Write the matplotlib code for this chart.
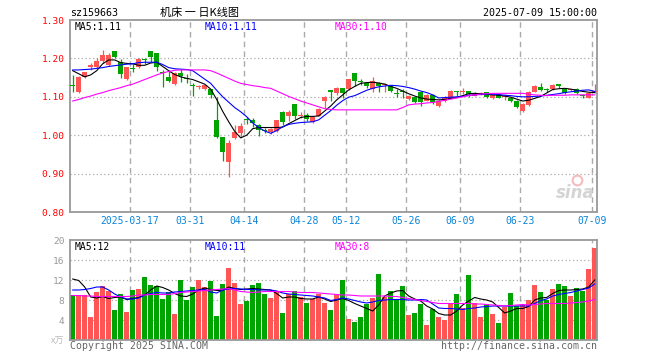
import matplotlib.pyplot as plt
import numpy as np

# daily candles, 2025-03-03 .. 2025-07-09 (88 trading days)
opens = [1.130, 1.112, 1.152, 1.177, 1.178, 1.193, 1.183, 1.219, 1.191, 1.146,
         1.175, 1.178, 1.198, 1.219, 1.213, 1.165, 1.152, 1.133, 1.161, 1.150,
         1.129, 1.125, 1.120, 1.120, 1.040, 0.995, 0.931, 0.992, 1.007, 1.041,
         1.040, 1.027, 1.013, 1.009, 1.011, 1.061, 1.050, 1.081, 1.049, 1.053,
         1.035, 1.051, 1.090, 1.118, 1.109, 1.122, 1.120, 1.161, 1.140, 1.137,
         1.120, 1.135, 1.130, 1.128, 1.110, 1.114, 1.093, 1.100, 1.113, 1.090,
         1.104, 1.076, 1.090, 1.094, 1.113, 1.112, 1.115, 1.103, 1.108, 1.112,
         1.097, 1.105, 1.099, 1.096, 1.090, 1.063, 1.079, 1.113, 1.125, 1.119,
         1.120, 1.133, 1.120, 1.117, 1.120, 1.103, 1.098, 1.112]
highs = [1.157, 1.153, 1.165, 1.188, 1.200, 1.222, 1.213, 1.219, 1.198, 1.177,
         1.185, 1.200, 1.202, 1.219, 1.213, 1.170, 1.167, 1.165, 1.172, 1.159,
         1.135, 1.130, 1.131, 1.120, 1.100, 0.995, 0.987, 1.027, 1.033, 1.047,
         1.044, 1.028, 1.018, 1.018, 1.040, 1.063, 1.066, 1.081, 1.061, 1.058,
         1.050, 1.070, 1.102, 1.118, 1.126, 1.122, 1.146, 1.161, 1.146, 1.139,
         1.151, 1.139, 1.135, 1.130, 1.120, 1.120, 1.104, 1.100, 1.113, 1.107,
         1.106, 1.091, 1.101, 1.117, 1.114, 1.122, 1.116, 1.113, 1.113, 1.113,
         1.106, 1.107, 1.108, 1.098, 1.091, 1.083, 1.114, 1.131, 1.137, 1.122,
         1.133, 1.134, 1.121, 1.121, 1.122, 1.108, 1.112, 1.133]
lows = [1.113, 1.109, 1.148, 1.171, 1.175, 1.188, 1.179, 1.200, 1.148, 1.145,
        1.165, 1.176, 1.185, 1.191, 1.167, 1.125, 1.138, 1.130, 1.139, 1.137,
        1.103, 1.120, 1.118, 1.097, 0.993, 0.933, 0.890, 0.989, 0.996, 1.029,
        1.021, 0.999, 1.006, 1.003, 1.009, 1.027, 1.038, 1.041, 1.044, 1.038,
        1.033, 1.050, 1.072, 1.090, 1.105, 1.098, 1.118, 1.128, 1.131, 1.122,
        1.113, 1.113, 1.113, 1.112, 1.100, 1.096, 1.091, 1.084, 1.076, 1.089,
        1.080, 1.074, 1.086, 1.093, 1.102, 1.108, 1.100, 1.101, 1.104, 1.098,
        1.095, 1.096, 1.092, 1.087, 1.072, 1.061, 1.077, 1.112, 1.114, 1.112,
        1.119, 1.122, 1.108, 1.114, 1.107, 1.097, 1.096, 1.109]
closes = [1.128, 1.152, 1.164, 1.184, 1.194, 1.209, 1.209, 1.204, 1.159, 1.177,
          1.173, 1.198, 1.196, 1.204, 1.177, 1.162, 1.142, 1.163, 1.155, 1.147,
          1.127, 1.126, 1.131, 1.105, 0.995, 0.955, 0.979, 1.009, 1.024, 1.039,
          1.033, 1.014, 1.011, 1.016, 1.040, 1.035, 1.061, 1.051, 1.051, 1.041,
          1.048, 1.068, 1.100, 1.112, 1.122, 1.111, 1.146, 1.141, 1.138, 1.127,
          1.140, 1.127, 1.131, 1.116, 1.108, 1.112, 1.102, 1.087, 1.087, 1.105,
          1.087, 1.089, 1.098, 1.115, 1.112, 1.114, 1.106, 1.111, 1.110, 1.099,
          1.105, 1.098, 1.101, 1.089, 1.074, 1.081, 1.113, 1.128, 1.118, 1.117,
          1.131, 1.128, 1.111, 1.118, 1.109, 1.102, 1.111, 1.113]

ma5 = [1.168, 1.160, 1.152, 1.157, 1.168, 1.186, 1.196, 1.196, 1.189, 1.187,
       1.186, 1.182, 1.182, 1.188, 1.190, 1.179, 1.168, 1.158, 1.152, 1.148,
       1.145, 1.139, 1.133, 1.120, 1.093, 1.062, 1.035, 1.010, 0.993, 1.000,
       1.017, 1.020, 1.020, 1.020, 1.020, 1.021, 1.030, 1.038, 1.046, 1.049,
       1.049, 1.050, 1.063, 1.076, 1.092, 1.105, 1.118, 1.127, 1.135, 1.137,
       1.138, 1.136, 1.133, 1.127, 1.122, 1.115, 1.108, 1.102, 1.097, 1.094,
       1.093, 1.092, 1.093, 1.096, 1.098, 1.103, 1.108, 1.109, 1.108, 1.106,
       1.105, 1.104, 1.102, 1.099, 1.094, 1.089, 1.091, 1.096, 1.101, 1.110,
       1.119, 1.121, 1.122, 1.120, 1.117, 1.114, 1.112, 1.111]
ma10 = [1.170, 1.170, 1.171, 1.172, 1.174, 1.176, 1.179, 1.181, 1.183, 1.185,
        1.186, 1.189, 1.190, 1.190, 1.190, 1.184, 1.176, 1.173, 1.172, 1.171,
        1.168, 1.157, 1.146, 1.135, 1.117, 1.100, 1.086, 1.072, 1.061, 1.048,
        1.032, 1.020, 1.011, 1.005, 1.012, 1.022, 1.028, 1.031, 1.033, 1.034,
        1.035, 1.040, 1.052, 1.064, 1.078, 1.090, 1.099, 1.103, 1.110, 1.117,
        1.122, 1.126, 1.128, 1.130, 1.129, 1.127, 1.124, 1.120, 1.115, 1.111,
        1.105, 1.097, 1.098, 1.099, 1.100, 1.101, 1.104, 1.105, 1.106, 1.107,
        1.107, 1.106, 1.104, 1.103, 1.101, 1.100, 1.100, 1.101, 1.102, 1.104,
        1.106, 1.108, 1.111, 1.113, 1.115, 1.117, 1.118, 1.114]
ma30 = [1.089, 1.093, 1.098, 1.102, 1.107, 1.111, 1.116, 1.120, 1.124, 1.129,
        1.133, 1.139, 1.145, 1.151, 1.157, 1.162, 1.166, 1.169, 1.170, 1.170,
        1.170, 1.170, 1.170, 1.168, 1.162, 1.155, 1.148, 1.141, 1.135, 1.132,
        1.129, 1.127, 1.124, 1.122, 1.115, 1.108, 1.101, 1.095, 1.089, 1.084,
        1.079, 1.074, 1.069, 1.067, 1.066, 1.066, 1.066, 1.066, 1.066, 1.066,
        1.066, 1.066, 1.066, 1.066, 1.066, 1.072, 1.079, 1.081, 1.082, 1.084,
        1.085, 1.088, 1.091, 1.094, 1.097, 1.100, 1.103, 1.105, 1.107, 1.108,
        1.109, 1.109, 1.109, 1.109, 1.109, 1.109, 1.107, 1.105, 1.104, 1.103,
        1.104, 1.104, 1.104, 1.105, 1.105, 1.105, 1.105, 1.105]

# volume in 万
volume = [9.0, 9.0, 9.0, 4.7, 9.7, 10.8, 9.9, 6.0, 9.2, 5.7,
          10.0, 10.2, 12.6, 11.0, 10.8, 8.2, 9.6, 5.2, 12.0, 8.0,
          10.6, 12.0, 10.6, 11.8, 4.8, 11.2, 14.4, 11.4, 7.2, 7.9,
          11.0, 11.4, 9.3, 8.4, 9.8, 5.4, 9.2, 9.8, 8.6, 7.4,
          8.2, 9.2, 7.4, 6.0, 9.0, 12.0, 4.2, 3.6, 4.6, 7.3,
          8.4, 13.2, 8.6, 9.8, 8.0, 10.8, 5.0, 5.4, 7.2, 3.0,
          6.2, 4.6, 4.0, 7.4, 9.2, 6.4, 13.0, 7.4, 4.6, 7.2,
          5.2, 3.4, 6.6, 9.4, 6.8, 7.0, 8.0, 11.0, 9.6, 8.0,
          10.2, 11.2, 10.8, 8.8, 10.4, 9.8, 14.2, 18.4]
vol_ma5 = [12.2, 11.9, 10.6, 8.6, 8.4, 8.7, 8.3, 8.5, 8.6, 8.1,
           8.3, 8.5, 9.0, 10.0, 10.8, 10.5, 10.0, 9.3, 8.8, 8.7,
           9.2, 10.0, 10.4, 10.1, 9.9, 9.9, 10.6, 10.3, 10.1, 10.2,
           10.3, 10.2, 10.1, 10.0, 9.3, 8.4, 8.6, 8.6, 8.3, 8.2,
           8.2, 8.6, 8.2, 7.7, 8.0, 8.3, 7.9, 7.3, 6.8, 6.3,
           5.8, 7.0, 8.8, 9.4, 9.8, 9.9, 8.8, 8.2, 7.8, 6.8,
           6.2, 5.3, 5.0, 5.0, 5.8, 7.0, 7.8, 8.5, 8.2, 8.0,
           7.6, 6.5, 5.4, 5.8, 6.3, 6.3, 6.7, 8.0, 8.4, 8.5,
           9.3, 9.9, 10.0, 10.0, 10.1, 10.2, 10.6, 12.0]
vol_ma10 = [10.0, 10.0, 10.1, 10.3, 10.6, 10.6, 10.0, 9.2, 8.6, 8.2,
            8.2, 8.4, 9.0, 9.3, 9.5, 9.4, 9.4, 9.6, 9.7, 9.8,
            9.9, 10.0, 10.1, 9.6, 9.4, 10.0, 10.2, 10.3, 10.2, 10.1,
            10.1, 10.0, 10.0, 10.0, 9.8, 9.4, 9.2, 9.1, 9.0, 8.9,
            8.8, 8.6, 8.4, 7.9, 8.1, 8.4, 8.2, 7.9, 7.6, 7.4,
            7.6, 7.9, 8.0, 8.1, 8.1, 8.1, 8.0, 8.0, 8.1, 8.0,
            7.2, 6.4, 6.3, 6.3, 6.2, 6.1, 6.3, 6.4, 6.6, 6.7,
            6.8, 6.8, 6.8, 6.8, 6.8, 6.8, 6.8, 7.3, 7.9, 8.2,
            8.8, 9.1, 9.3, 9.5, 9.8, 10.1, 10.4, 11.2]
vol_ma30 = [8.9, 8.9, 8.8, 8.8, 8.7, 8.7, 8.7, 8.7, 8.7, 8.7,
            8.8, 9.0, 9.0, 9.1, 9.1, 9.1, 9.1, 9.3, 9.5, 9.6,
            9.7, 9.8, 9.9, 10.0, 10.1, 10.2, 10.3, 10.0, 9.7, 9.6,
            9.5, 9.6, 9.7, 9.7, 9.7, 9.7, 9.7, 9.6, 9.5, 9.5,
            9.5, 9.4, 9.3, 9.2, 9.1, 9.0, 9.0, 8.9, 8.8, 8.8,
            8.8, 8.8, 8.8, 8.7, 8.7, 8.5, 8.3, 8.1, 7.9, 7.7,
            7.5, 7.3, 7.3, 7.3, 7.3, 7.3, 7.3, 7.2, 7.2, 7.1,
            7.0, 6.9, 6.8, 6.9, 7.0, 7.1, 7.0, 7.1, 7.2, 7.3,
            7.3, 7.3, 7.3, 7.4, 7.5, 7.6, 7.8, 8.1]

tick_idx = [10, 20, 29, 39, 46, 56, 65, 75, 87]
tick_labels = ["2025-03-17", "03-31", "04-14", "04-28", "05-12",
               "05-26", "06-09", "06-23", "07-09"]
price_ticks = [0.80, 0.90, 1.00, 1.10, 1.20, 1.30]
vol_ticks = [4, 8, 12, 16, 20]

RED = "#ff5555"
GREEN = "#00a400"
GRID = "#aaaaaa"
MONO = "DejaVu Sans Mono"
W, H = 660, 360


def px(x, y):
    return x / W, 1 - y / H


fig = plt.figure(figsize=(6.6, 3.6), dpi=100)
ax = fig.add_axes([70 / W, 1 - 212 / H, 527 / W, 192 / H])
axv = fig.add_axes([70 / W, 20 / H, 527 / W, 100 / H])

n = len(closes)
x = np.arange(n)
xc = x + 0.45
o = np.array(opens)
c = np.array(closes)
colors = [RED if c[i] >= o[i] else GREEN for i in range(n)]

for a in (ax, axv):
    a.set_xlim(0, 527 / 6)
    for i in tick_idx:
        a.axvline(i, color=GRID, lw=1, ls=(0, (4, 3)), zorder=0)
    for s in a.spines.values():
        s.set_color("#999999")
        s.set_linewidth(1.3)
    a.set_xticks([])
    a.tick_params(axis="y", length=0, pad=4)

# price panel
ax.set_ylim(0.80, 1.30)
for p in price_ticks[1:-1]:
    ax.axhline(p, color=GRID, lw=0.9, ls=(0, (1, 2)), zorder=0)
ax.vlines(xc, lows, highs, colors=colors, lw=0.9, zorder=2)
body = np.maximum(np.abs(c - o), 0.003)
ax.bar(xc, body, bottom=np.minimum(o, c), width=0.8, color=colors, zorder=3)
ax.plot(xc, ma5, color="black", lw=0.8, zorder=4)
ax.plot(xc, ma10, color="#0000ff", lw=0.8, zorder=4)
ax.plot(xc, ma30, color="#ff00ff", lw=0.8, zorder=4)
ax.set_yticks(price_ticks)
ax.set_yticklabels([f"{p:.2f}" for p in price_ticks], family=MONO,
                   fontsize=6.8, color="red")

for i, lab in zip(tick_idx, tick_labels):
    ax.text(i, -0.045, lab, transform=ax.get_xaxis_transform(), ha="center",
            va="center", family=MONO, fontsize=7, color="#0a84d8")

ax.text(5 / 527, 1 - 6.5 / 192, "MA5:1.11", transform=ax.transAxes,
        family=MONO, fontsize=7, va="center", color="black")
ax.text(135 / 527, 1 - 6.5 / 192, "MA10:1.11", transform=ax.transAxes,
        family=MONO, fontsize=7, va="center", color="#0000ff")
ax.text(265 / 527, 1 - 6.5 / 192, "MA30:1.10", transform=ax.transAxes,
        family=MONO, fontsize=7, va="center", color="#ff00ff")

# sina watermark
ax.text(0.995, 0.05, "sina", transform=ax.transAxes, ha="right", va="bottom",
        fontsize=12, style="italic", weight="bold", color="#d4d4d4", zorder=1)
ax.plot([0.962], [0.165], marker="o", ms=7, mfc="none", mec="#f4bcbc", mew=1.5,
        transform=ax.transAxes, zorder=1)

# volume panel
axv.set_ylim(0, 20)
for v in vol_ticks[:-1]:
    axv.axhline(v, color=GRID, lw=0.9, ls=(0, (1, 2)), zorder=0)
axv.bar(x, volume, width=0.9, align="edge", color=colors, zorder=2)
axv.plot(xc, vol_ma5, color="black", lw=0.8, zorder=3)
axv.plot(xc, vol_ma10, color="#0000ff", lw=0.8, zorder=3)
axv.plot(xc, vol_ma30, color="#ff00ff", lw=0.8, zorder=3)
axv.set_yticks(vol_ticks)
axv.set_yticklabels([str(v) for v in vol_ticks], family=MONO, fontsize=6.8,
                    color="#999999")
axv.text(5 / 527, 1 - 6.5 / 100, "MA5:12", transform=axv.transAxes,
         family=MONO, fontsize=7, va="center", color="black")
axv.text(135 / 527, 1 - 6.5 / 100, "MA10:11", transform=axv.transAxes,
         family=MONO, fontsize=7, va="center", color="#0000ff")
axv.text(265 / 527, 1 - 6.5 / 100, "MA30:8", transform=axv.transAxes,
         family=MONO, fontsize=7, va="center", color="#ff00ff")

# header / footer texts
fig.text(*px(70, 13), "sz159663", family=MONO, fontsize=7.2, va="center")
fig.text(*px(200, 12.5), "机床 一 日K线图", family=["Noto Sans CJK SC", "DejaVu Sans"],
         fontsize=8, ha="center", va="center")
fig.text(*px(597, 13), "2025-07-09 15:00:00", family=MONO, fontsize=7.2,
         ha="right", va="center")
fig.text(*px(64, 341), "x万", family=["Noto Sans CJK SC", "DejaVu Sans"],
         fontsize=6.5, ha="right", va="center", color="#bbbbbb")
fig.text(*px(70, 346), "Copyright 2025 SINA.COM", family=MONO, fontsize=7.1,
         va="center", color="#666666")
fig.text(*px(597, 346), "http://finance.sina.com.cn", family=MONO, fontsize=7.1,
         ha="right", va="center", color="#666666")

fig.savefig("out.png", dpi=100)
